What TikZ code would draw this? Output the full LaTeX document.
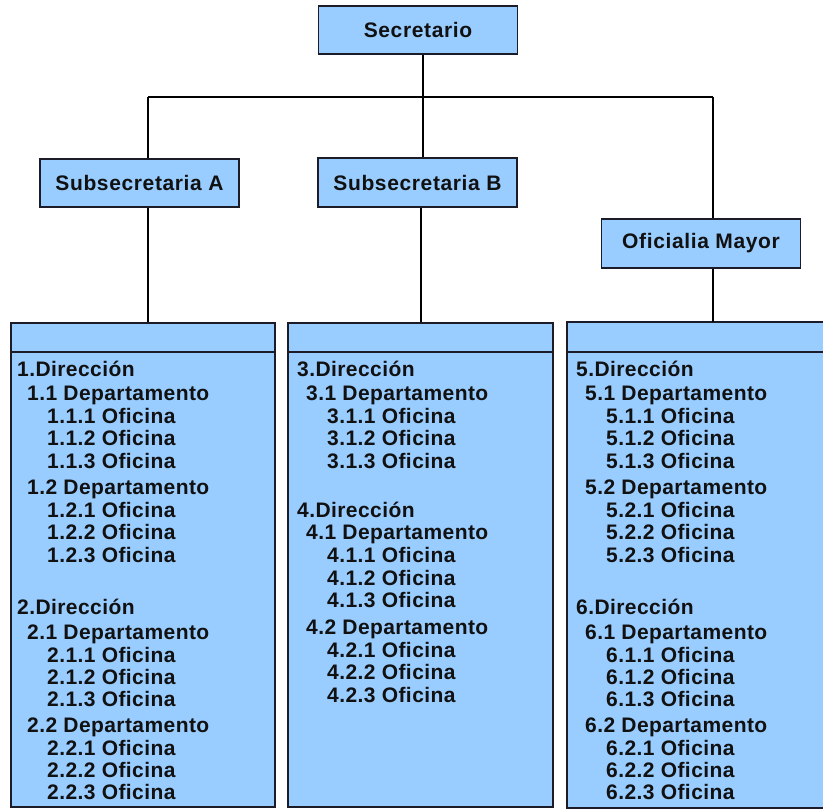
\documentclass[tikz,border=0pt]{standalone}
\usepackage{fontspec}
\setmainfont{Liberation Sans}[LetterSpace=2]
\newfontfamily\hdfont{Liberation Sans}[LetterSpace=3]
\definecolor{boxblue}{HTML}{99CCFF}
\definecolor{boxline}{HTML}{1C1C28}
\definecolor{txtcol}{HTML}{111111}
\begin{document}
\begin{tikzpicture}[x=1pt,y=-1pt,
  hbox/.style={draw=boxline,line width=1.6pt,fill=boxblue,minimum width=199pt,minimum height=48pt,inner sep=0pt,
    font=\hdfont\bfseries\fontsize{21}{24}\selectfont,text=txtcol},
  bigbox/.style={draw=boxline,line width=1.6pt,fill=boxblue,minimum height=484pt,inner sep=0pt},
  edge/.style={draw=boxline,line width=1.6pt},
  txt/.style={anchor=base west,inner sep=0pt,font=\bfseries\fontsize{21}{24}\selectfont,text=txtcol},
  conn/.style={draw=black,line width=1.5pt}]
\useasboundingbox (0,0) rectangle (823,809);
\fill[white] (0,0) rectangle (823,809);

% header boxes
\node[hbox] (sec) at (418,30) {Secretario};
\node[hbox] (subA) at (139.5,183) {Subsecretaria A};
\node[hbox,minimum height=49pt] (subB) at (417.5,182.5) {Subsecretaria B};
\node[hbox,minimum height=49pt] (ofi) at (701,243.5) {Oficialia Mayor};

% bottom boxes
\node[bigbox,minimum width=264pt] (d1) at (143,565) {};
\node[bigbox,minimum width=265pt] (d2) at (420.5,565) {};
\node[bigbox,draw=none,minimum width=290pt] (d3) at (713,565) {};
\draw[edge] (d3.north east) -- (d3.north west) -- (d3.south west) -- (d3.south east);

\coordinate (yH) at (0,352);
\draw[edge] (d1.west |- yH) -- (d1.east |- yH);
\draw[edge] (d2.west |- yH) -- (d2.east |- yH);
\draw[edge] (d3.west |- yH) -- (d3.east |- yH);

% connectors
\coordinate (busL) at (148,97);
\coordinate (busR) at (713,97);
\coordinate (xS) at (423,0);
\coordinate (xB) at (421,0);
\draw[conn] (busL) -- (busR);
\draw[conn] (sec.south -| xS) -- (subB.north -| xS);
\draw[conn] (busL) -- (subA.north -| busL);
\draw[conn] (busR) -- (ofi.north -| busR);
\draw[conn] (subA.south -| busL) -- (d1.north -| busL);
\draw[conn] (subB.south -| xB) -- (d2.north -| xB);
\draw[conn] (ofi.south -| busR) -- (d3.north -| busR);

% box 1 texts
\node[txt] (a01) at (17,376.5) {1.Dirección};
\node[txt] (a02) at (27,400) {1.1 Departamento};
\node[txt] (a03) at (47,423.5) {1.1.1 Oficina};
\node[txt] (a04) at (47,445.5) {1.1.2 Oficina};
\node[txt] (a05) at (47,468.5) {1.1.3 Oficina};
\node[txt] (a06) at (27,494) {1.2 Departamento};
\node[txt] (a07) at (47,517.5) {1.2.1 Oficina};
\node[txt] (a08) at (47,539.5) {1.2.2 Oficina};
\node[txt] (a09) at (47,562.5) {1.2.3 Oficina};
\node[txt] (a10) at (17,614.5) {2.Dirección};
\node[txt] (a11) at (27,639) {2.1 Departamento};
\node[txt] (a12) at (47,662.5) {2.1.1 Oficina};
\node[txt] (a13) at (47,684.5) {2.1.2 Oficina};
\node[txt] (a14) at (47,706.5) {2.1.3 Oficina};
\node[txt] (a15) at (27,732) {2.2 Departamento};
\node[txt] (a16) at (47,755.5) {2.2.1 Oficina};
\node[txt] (a17) at (47,777.5) {2.2.2 Oficina};
\node[txt] (a18) at (47,799.5) {2.2.3 Oficina};

% box 2 texts
\node[txt] (b01) at (297,376.5) {3.Dirección};
\node[txt] (b02) at (306,400) {3.1 Departamento};
\node[txt] (b03) at (327,423.5) {3.1.1 Oficina};
\node[txt] (b04) at (327,445.5) {3.1.2 Oficina};
\node[txt] (b05) at (327,468.5) {3.1.3 Oficina};
\node[txt] (b06) at (297,517.5) {4.Dirección};
\node[txt] (b07) at (306,539.5) {4.1 Departamento};
\node[txt] (b08) at (327,562.5) {4.1.1 Oficina};
\node[txt] (b09) at (327,585.5) {4.1.2 Oficina};
\node[txt] (b10) at (327,607.5) {4.1.3 Oficina};
\node[txt] (b11) at (306,634) {4.2 Departamento};
\node[txt] (b12) at (327,657.5) {4.2.1 Oficina};
\node[txt] (b13) at (327,679.5) {4.2.2 Oficina};
\node[txt] (b14) at (327,702.5) {4.2.3 Oficina};

% box 3 texts
\node[txt] (c01) at (576,376.5) {5.Dirección};
\node[txt] (c02) at (585,400) {5.1 Departamento};
\node[txt] (c03) at (606,423.5) {5.1.1 Oficina};
\node[txt] (c04) at (606,445.5) {5.1.2 Oficina};
\node[txt] (c05) at (606,468.5) {5.1.3 Oficina};
\node[txt] (c06) at (585,494) {5.2 Departamento};
\node[txt] (c07) at (606,517.5) {5.2.1 Oficina};
\node[txt] (c08) at (606,539.5) {5.2.2 Oficina};
\node[txt] (c09) at (606,562.5) {5.2.3 Oficina};
\node[txt] (c10) at (576,614.5) {6.Dirección};
\node[txt] (c11) at (585,639) {6.1 Departamento};
\node[txt] (c12) at (606,662.5) {6.1.1 Oficina};
\node[txt] (c13) at (606,684.5) {6.1.2 Oficina};
\node[txt] (c14) at (606,706.5) {6.1.3 Oficina};
\node[txt] (c15) at (585,732) {6.2 Departamento};
\node[txt] (c16) at (606,755.5) {6.2.1 Oficina};
\node[txt] (c17) at (606,777.5) {6.2.2 Oficina};
\node[txt] (c18) at (606,799.5) {6.2.3 Oficina};
\end{tikzpicture}
\end{document}
